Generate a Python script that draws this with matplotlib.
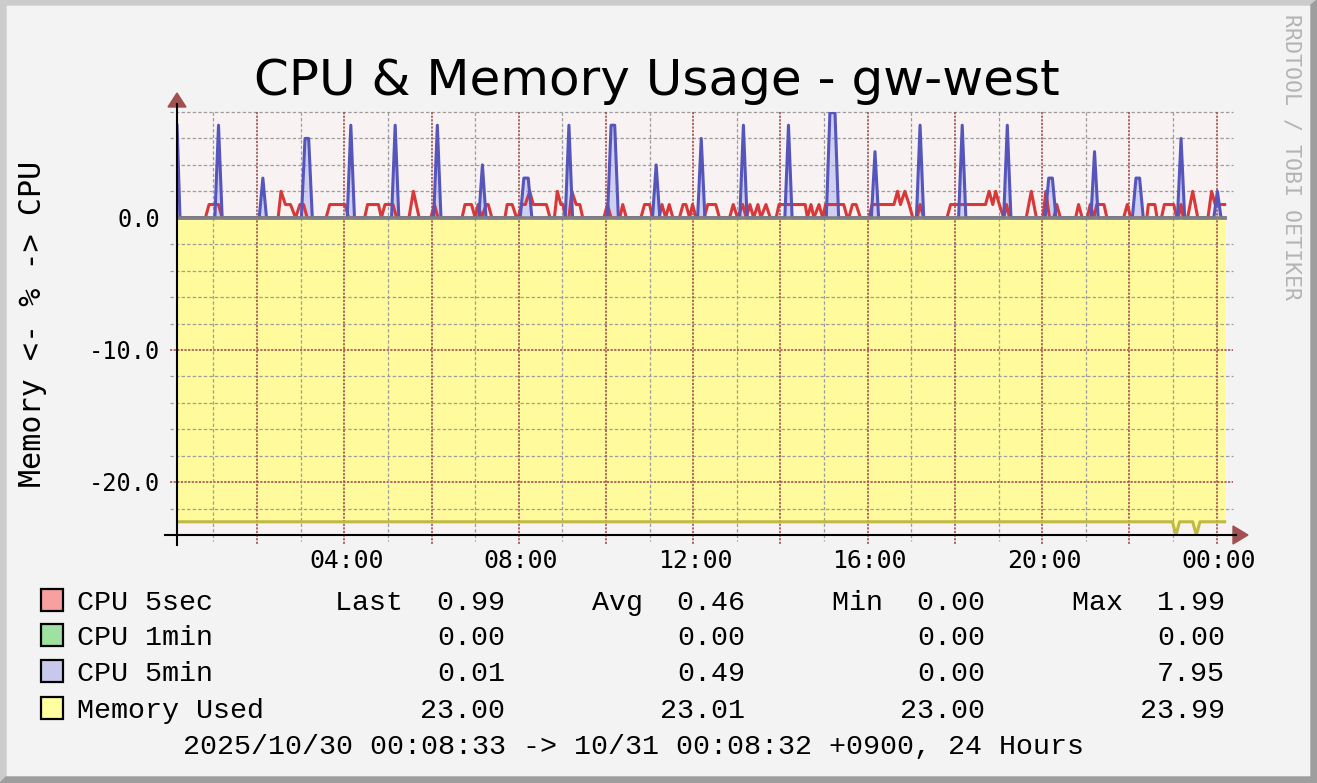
import matplotlib
matplotlib.use("Agg")
import matplotlib.pyplot as plt
import numpy as np
from matplotlib.patches import Polygon, Rectangle
from matplotlib.transforms import blended_transform_factory

# time axis in minutes since 2025/10/30 00:00
cpu5sec_min = [10, 49, 54, 67, 72, 149, 153, 159, 166, 173, 179, 184, 189,
               215, 220, 241, 246, 268, 272, 287, 291, 296, 307, 312,
               329, 335, 343, 359, 364, 369, 402, 406, 415, 420, 424, 429, 435, 438, 443,
               461, 464, 471, 477, 479, 484, 489, 495, 500, 518, 523,
               529, 533, 538, 541, 544, 549, 553, 559, 564, 568,
               597, 602, 607, 619, 623, 628, 648, 653, 660, 664,
               673, 677, 682, 687, 692, 701, 706, 710, 715, 719, 724, 735, 740, 751, 756,
               770, 775, 781, 788, 793, 798, 803, 809, 813, 820, 826, 834, 838, 874, 877,
               882, 886, 893, 898, 902, 927, 932, 934, 939, 944, 950,
               962, 966, 996, 1001, 1005, 1011, 1017, 1022, 1028, 1032, 1037,
               1069, 1074, 1122, 1127, 1132, 1136, 1141, 1147, 1151, 1155,
               1178, 1185, 1192, 1201, 1205, 1210, 1216, 1220, 1225,
               1246, 1250, 1255, 1262, 1266, 1271, 1275, 1285, 1289,
               1312, 1317, 1322, 1344, 1346, 1355, 1358, 1364, 1368, 1381, 1385,
               1387, 1391, 1394, 1400, 1407, 1414, 1428, 1433, 1438, 1451]
cpu5sec_val = [0, 0, 1, 1, 0, 0, 2, 1, 1, 0, 1, 1, 0,
               0, 1, 1, 0, 0, 1, 1, 0, 1, 1, 0,
               0, 2, 0, 0, 1, 0, 0, 1, 1, 0, 1, 0, 1, 1, 0,
               0, 1, 1, 0, 0, 1, 1, 2, 1, 1, 0,
               0, 2, 1, 1, 0, 0, 2, 1, 1, 0,
               0, 1, 0, 0, 1, 0, 0, 1, 1, 0,
               0, 1, 0, 1, 0, 0, 1, 1, 0, 1, 0, 0, 1, 1, 0,
               0, 1, 0, 1, 0, 1, 0, 1, 0, 1, 0, 0, 1, 1, 0,
               1, 0, 1, 0, 1, 1, 0, 0, 1, 1, 0,
               0, 1, 1, 2, 1, 2, 1, 0, 0, 1, 0,
               0, 1, 1, 2, 1, 2, 1, 0, 1, 0,
               0, 2, 0, 0, 2, 0, 0, 1, 0,
               0, 1, 0, 0, 1, 0, 1, 1, 0,
               0, 1, 0, 0, 1, 1, 0, 0, 1, 1, 0,
               0, 1, 0, 0, 2, 0, 0, 2, 1, 1]

cpu5min_min = [10, 14, 62, 67, 72, 123, 128, 133, 181, 186, 191, 196,
               244, 249, 254, 305, 310, 315, 363, 368, 373, 425, 430, 435,
               482, 487, 493, 498, 544, 549, 554, 602, 607, 612, 617,
               664, 669, 674, 726, 731, 736, 784, 789, 794, 846, 851, 856,
               903, 908, 915, 920, 965, 970, 975, 1027, 1032, 1037,
               1085, 1090, 1095, 1147, 1152, 1157, 1204, 1209, 1214, 1219,
               1267, 1272, 1277, 1324, 1329, 1334, 1339, 1386, 1391, 1396,
               1436, 1441, 1446, 1451]
cpu5min_val = [7, 0, 0, 7, 0, 0, 3, 0, 0, 6, 6, 0,
               0, 7, 0, 0, 7, 0, 0, 7, 0, 0, 4, 0,
               0, 3, 3, 0, 0, 7, 0, 0, 7, 7, 0,
               0, 4, 0, 0, 6, 0, 0, 7, 0, 0, 7, 0,
               0, 7.95, 7.95, 0, 0, 5, 0, 0, 7, 0,
               0, 7, 0, 0, 7, 0, 0, 3, 3, 0,
               0, 5, 0, 0, 3, 3, 0, 0, 6, 0,
               0, 2, 0, 0]

mem_min = [10, 1379, 1384, 1389, 1407, 1412, 1417, 1451]
mem_val = [23, 23, 24, 23, 23, 24, 23, 23]

legend_names = ["CPU 5sec", "CPU 1min", "CPU 5min", "Memory Used"]
legend_colors = ["#F8A0A0", "#A0E0A0", "#C8C8EC", "#FFFFA0"]
last_vals = ["Last  0.99", "0.00", "0.01", "23.00"]
avg_vals = ["Avg  0.46", "0.00", "0.49", "23.01"]
min_vals = ["Min  0.00", "0.00", "0.00", "23.00"]
max_vals = ["Max  1.99", "0.00", "7.95", "23.99"]

x_labels = ["04:00", "08:00", "12:00", "16:00", "20:00", "00:00"]
x_label_pos = [240, 480, 720, 960, 1200, 1440]
y_labels = ["0.0", "-10.0", "-20.0"]
y_label_pos = [0, -10, -20]

W, H = 1317, 783
def fx(x):
    return x / W
def fy(y):
    return 1 - y / H

plt.rcParams['lines.scale_dashes'] = False
mono = "DejaVu Sans Mono"
legend_font = "Liberation Mono"
dark_red = "#A05050"
grid_gray = "#9C9C9C"

fig = plt.figure(figsize=(W / 100, H / 100), dpi=100, facecolor="#F3F3F3")
ax = fig.add_axes([fx(177), fy(535), fx(1227) - fx(177), fy(112) - fy(535)])
ax.set_facecolor("#F8F2F2")
ax.set_xlim(9.9, 1454.2)
ax.set_ylim(-24, 8)
for s in ax.spines.values():
    s.set_visible(False)
ax.set_xticks([])
ax.set_yticks([])

px_min = 1.3755   # minutes per pixel
px_val = 1 / 13.22  # value per pixel

# areas
ax.fill_between(mem_min, 0, -np.array(mem_val), color="#FFFA9C", lw=0, zorder=1)
ax.fill_between(cpu5min_min, 0, cpu5min_val, color="#CFCFF2", lw=0, zorder=1)

# grid
x0, x1 = 9.9 - 7 * px_min, 1454.2 + 6 * px_min
for v in range(-22, 9, 2):
    if v in (0, -10, -20):
        continue
    ax.plot([x0, x1], [v, v], color=grid_gray, lw=0.9, dashes=(2.4, 1.6),
            clip_on=False, zorder=2)
for v in (-10, -20):
    ax.plot([x0, x1], [v, v], color=dark_red, lw=1.2, dashes=(1.6, 1.0),
            clip_on=False, zorder=2)
for t in range(60, 1441, 60):
    if t % 120 == 0:
        ax.plot([t, t], [8, -24 - 10 * px_val], color=dark_red, lw=1.2,
                dashes=(1.6, 1.0), clip_on=False, zorder=2)
    else:
        ax.plot([t, t], [8, -24 - 6 * px_val], color=grid_gray, lw=0.9,
                dashes=(2.4, 1.6), clip_on=False, zorder=2)

# lines
ax.plot(mem_min, -np.array(mem_val), color="#BFBA45", lw=2.2, zorder=3)
ax.plot(cpu5sec_min, cpu5sec_val, color="#D83838", lw=2.2, zorder=3)
ax.plot(cpu5min_min, cpu5min_val, color="#5555BB", lw=2.2, zorder=3)
ax.axhline(0, color="#808080", lw=2.6, zorder=4)

# axes lines and arrows (figure pixels)
tf = fig.transFigure
fig.add_artist(plt.Line2D([fx(177), fx(177)], [fy(545), fy(104)], color="black", lw=1.5, transform=tf))
fig.add_artist(plt.Line2D([fx(165), fx(1236)], [fy(535), fy(535)], color="black", lw=1.5, transform=tf))
fig.add_artist(Polygon([(fx(168), fy(107)), (fx(186), fy(107)), (fx(177), fy(93))],
                       closed=True, color=dark_red, transform=tf))
fig.add_artist(Polygon([(fx(1233), fy(526)), (fx(1233), fy(544)), (fx(1248), fy(535))],
                       closed=True, color=dark_red, transform=tf))

# 3d border
light, dark = "#CCCCCC", "#9E9E9E"
fig.add_artist(Polygon([(fx(0), fy(0)), (fx(W), fy(0)), (fx(W - 6), fy(5)), (fx(6), fy(5))],
                       closed=True, color=light, transform=tf))
fig.add_artist(Polygon([(fx(0), fy(0)), (fx(6), fy(5)), (fx(6), fy(H - 6)), (fx(0), fy(H))],
                       closed=True, color=light, transform=tf))
fig.add_artist(Polygon([(fx(W), fy(0)), (fx(W), fy(H)), (fx(W - 6), fy(H - 6)), (fx(W - 6), fy(5))],
                       closed=True, color=dark, transform=tf))
fig.add_artist(Polygon([(fx(0), fy(H)), (fx(W), fy(H)), (fx(W - 6), fy(H - 6)), (fx(6), fy(H - 6))],
                       closed=True, color=dark, transform=tf))

# tick labels
ytf = blended_transform_factory(tf, ax.transData)
for v, lab in zip(y_label_pos, y_labels):
    ax.text(fx(160), v - 2 * px_val, lab, transform=ytf, ha="right", va="center",
            family=mono, fontsize=17)
xtf = blended_transform_factory(ax.transData, tf)
for t, lab in zip(x_label_pos, x_labels):
    ax.text(t + 2 * px_min, fy(568), lab, transform=xtf, ha="center", va="baseline",
            family=mono, fontsize=17.8)

# title and labels
fig.text(fx(657), fy(95), "CPU & Memory Usage - gw-west", ha="center",
         va="baseline", family="DejaVu Sans", fontsize=36)
fig.text(fx(33), fy(324), "Memory <- % -> CPU", rotation=90, ha="center",
         va="center", family=mono, fontsize=21.6)
fig.text(fx(1292), fy(157), "RRDTOOL / TOBI OETIKER", rotation=270, ha="center",
         va="center", family=mono, fontsize=15.6, color="#B4B4B4")

# legend
rows = [610, 645, 681, 718]
for i, name in enumerate(legend_names):
    yb = rows[i]
    fig.add_artist(Rectangle((fx(41), fy(yb + 1)), 22 / W, 22 / H, facecolor=legend_colors[i],
                             edgecolor="black", lw=1.6, transform=tf))
    fig.text(fx(77), fy(yb), name, ha="left", va="baseline",
             family=legend_font, fontsize=20.4)
    for xr, col in zip([505, 745, 985, 1225], [last_vals, avg_vals, min_vals, max_vals]):
        fig.text(fx(xr), fy(yb), col[i], ha="right", va="baseline",
                 family=legend_font, fontsize=20.4)

fig.text(fx(183), fy(754), "2025/10/30 00:08:33 -> 10/31 00:08:32 +0900, 24 Hours",
         ha="left", va="baseline", family=legend_font, fontsize=20.4)

fig.savefig("out.png", dpi=100, facecolor=fig.get_facecolor())
